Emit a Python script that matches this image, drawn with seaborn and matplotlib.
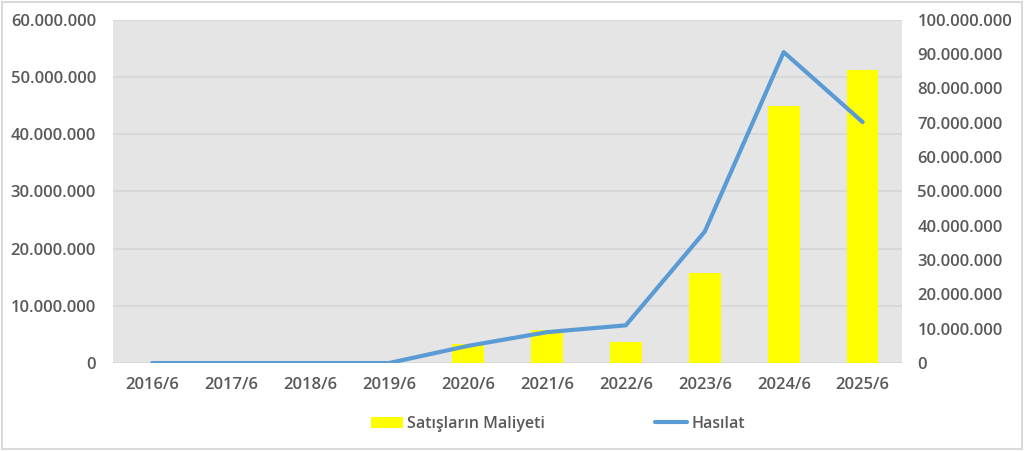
import matplotlib
matplotlib.use("Agg")
import matplotlib.pyplot as plt
import seaborn as sns
import pandas as pd
from matplotlib.ticker import FuncFormatter, MultipleLocator
from matplotlib.patches import Patch, Rectangle
from matplotlib.lines import Line2D

years = ["2016/6", "2017/6", "2018/6", "2019/6", "2020/6", "2021/6", "2022/6", "2023/6", "2024/6", "2025/6"]
satis_maliyeti = [0, 0, 0, 0, 3_400_000, 5_800_000, 3_700_000, 15_700_000, 44_900_000, 51_200_000]
hasilat = [0, 0, 0, 0, 5_000_000, 9_000_000, 11_000_000, 38_300_000, 90_600_000, 70_200_000]

df = pd.DataFrame({"year": years, "cost": satis_maliyeti, "rev": hasilat})

sns.set_style("white")
plt.rcParams["font.family"] = ["Open Sans", "DejaVu Sans"]
text_color = "#595959"
fs = 12

fig = plt.figure(figsize=(10.24, 4.51), dpi=100)
ax = fig.add_axes([0.110, 0.195, 0.771, 0.761])
ax.set_facecolor("#e5e5e5")

sns.barplot(data=df, x="year", y="cost", color="#ffff00", width=0.4,
            saturation=1, linewidth=0, ax=ax, zorder=2)
ax.set_ylim(0, 60_000_000)
ax.yaxis.set_major_locator(MultipleLocator(10_000_000))
ax.grid(axis="y", color="#d6d6d6", linewidth=1.2, zorder=0)
ax.set_axisbelow(True)

ax2 = ax.twinx()
sns.lineplot(data=df, x="year", y="rev", color="#5b9bd5", linewidth=3,
             ax=ax2, sort=False)
ax2.set_ylim(0, 100_000_000)
ax2.yaxis.set_major_locator(MultipleLocator(10_000_000))

fmt = FuncFormatter(lambda v, p: f"{int(round(v)):,}".replace(",", "."))
for a in (ax, ax2):
    a.yaxis.set_major_formatter(fmt)
    a.set_xlabel("")
    a.set_ylabel("")
    for s in a.spines.values():
        s.set_visible(False)
    a.tick_params(length=0, colors=text_color, labelsize=fs)
ax.set_xlim(-0.5, 9.5)
ax.tick_params(axis="x", pad=10)
ax.tick_params(axis="y", pad=12)
ax2.tick_params(axis="y", pad=11)
for lab in ax.get_yticklabels() + ax.get_xticklabels() + ax2.get_yticklabels():
    lab.set_fontweight("semibold")

handles = [Patch(facecolor="#ffff00", edgecolor="none"),
           Line2D([0], [0], color="#5b9bd5", linewidth=3)]
leg = fig.legend(handles, ["Satışların Maliyeti", "Hasılat"], loc="center",
                 bbox_to_anchor=(0.545, 0.06), ncol=2, frameon=False,
                 columnspacing=6.9, handlelength=2.0, handletextpad=0.25,
                 fontsize=11.5)
for t in leg.get_texts():
    t.set_color(text_color)
    t.set_fontweight("semibold")

fig.patches.append(Rectangle((0.002, 0.004), 0.996, 0.992, transform=fig.transFigure,
                             fill=False, edgecolor="#d9d9d9", linewidth=1.5))

fig.savefig("out.png", dpi=100, facecolor="white")
